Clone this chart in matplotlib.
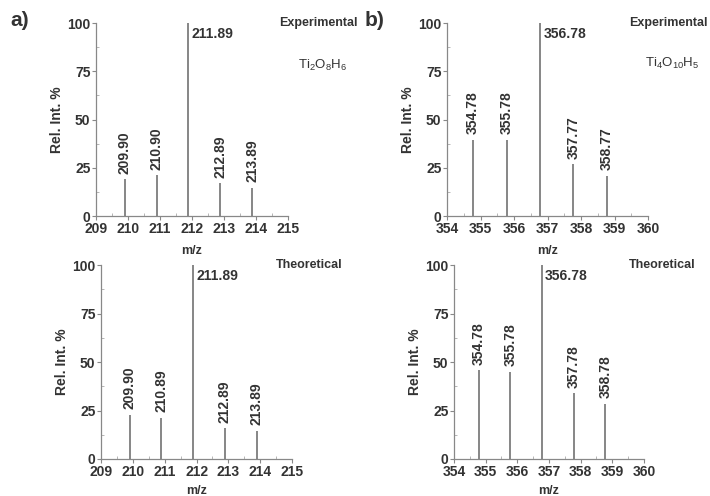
import matplotlib
matplotlib.use("Agg")
import matplotlib.pyplot as plt
from matplotlib.ticker import MultipleLocator

plt.rcParams['font.family'] = ['Liberation Sans', 'DejaVu Sans']
plt.rcParams['font.weight'] = 'bold'
plt.rcParams['mathtext.default'] = 'regular'

# peak data
a_exp_mz = [209.90, 210.90, 211.89, 212.89, 213.89]
a_exp_int = [19.0, 21.0, 100.0, 16.9, 14.5]
a_exp_lab = ["209.90", "210.90", "211.89", "212.89", "213.89"]

a_th_mz = [209.90, 210.89, 211.89, 212.89, 213.89]
a_th_int = [22.7, 21.3, 100.0, 15.8, 14.4]
a_th_lab = ["209.90", "210.89", "211.89", "212.89", "213.89"]

b_exp_mz = [354.78, 355.78, 356.78, 357.77, 358.77]
b_exp_int = [39.3, 39.5, 100.0, 26.7, 20.7]
b_exp_lab = ["354.78", "355.78", "356.78", "357.77", "358.77"]

b_th_mz = [354.78, 355.78, 356.78, 357.78, 358.78]
b_th_int = [45.7, 45.0, 100.0, 33.8, 28.2]
b_th_lab = ["354.78", "355.78", "356.78", "357.78", "358.78"]

line_col = "#666666"
txt_col = "#333333"

fig = plt.figure(figsize=(7.1, 4.96), dpi=100)


def spectrum(rect, mz, inten, labels, xlim, xpad):
    ax = fig.add_axes(rect)
    ax.vlines(mz, 0, inten, color=line_col, lw=1.1)
    ax.set_xlim(*xlim)
    ax.set_ylim(0, 100)
    ax.spines['top'].set_visible(False)
    ax.spines['right'].set_visible(False)
    for s in ['left', 'bottom']:
        ax.spines[s].set_color("#888888")
        ax.spines[s].set_linewidth(0.9)
    ax.xaxis.set_major_locator(MultipleLocator(1))
    ax.xaxis.set_minor_locator(MultipleLocator(0.5))
    ax.yaxis.set_major_locator(MultipleLocator(25))
    ax.yaxis.set_minor_locator(MultipleLocator(12.5))
    ax.tick_params(which='major', direction='out', length=3, color="#888888",
                   labelsize=10, labelcolor=txt_col, pad=1)
    ax.tick_params(which='minor', direction='in', length=2, color="#aaaaaa")
    for t in ax.get_xticklabels() + ax.get_yticklabels():
        t.set_fontweight('bold')
    ax.set_xlabel("m/z", fontsize=9, color=txt_col, fontweight='bold', labelpad=xpad)
    ax.set_ylabel("Rel. Int. %", fontsize=10, color=txt_col, fontweight='bold', labelpad=2)
    for x, y, lab in zip(mz, inten, labels):
        if y >= 100:
            ax.text(x + 0.1, y - 2, lab, fontsize=10, color=txt_col,
                    fontweight='bold', ha='left', va='top')
        else:
            ax.text(x, y + 3, lab, fontsize=10, color=txt_col, rotation=90,
                    fontweight='bold', ha='center', va='bottom')
    return ax


spectrum([0.1352, 0.5645, 0.2704, 0.3891], a_exp_mz, a_exp_int, a_exp_lab,
         (209, 215), 7)
spectrum([0.1423, 0.0746, 0.2690, 0.3911], a_th_mz, a_th_int, a_th_lab,
         (209, 215), 5)
spectrum([0.6296, 0.5645, 0.2831, 0.3891], b_exp_mz, b_exp_int, b_exp_lab,
         (354, 360), 7)
spectrum([0.6394, 0.0746, 0.2676, 0.3911], b_th_mz, b_th_int, b_th_lab,
         (354, 360), 5)

# panel tags and formulas
tag_kw = dict(fontsize=9, fontweight='bold', color=txt_col, ha='right', va='center')
fig.text(0.503, 0.9536, "Experimental", **tag_kw)
fig.text(0.997, 0.9536, "Experimental", **tag_kw)
fig.text(0.483, 0.4657, "Theoretical", **tag_kw)
fig.text(0.979, 0.4657, "Theoretical", **tag_kw)
fig.text(0.454, 0.869, r"Ti$_2$O$_8$H$_6$", fontsize=9.5, fontweight='normal',
         color=txt_col, ha='center', va='center')
fig.text(0.946, 0.873, r"Ti$_4$O$_{10}$H$_5$", fontsize=9.5, fontweight='normal',
         color=txt_col, ha='center', va='center')

fig.text(0.014, 0.958, "a)", fontsize=15, fontweight='bold', color=txt_col, va='center')
fig.text(0.513, 0.958, "b)", fontsize=15, fontweight='bold', color=txt_col, va='center')

plt.savefig("out.png", dpi=100)
